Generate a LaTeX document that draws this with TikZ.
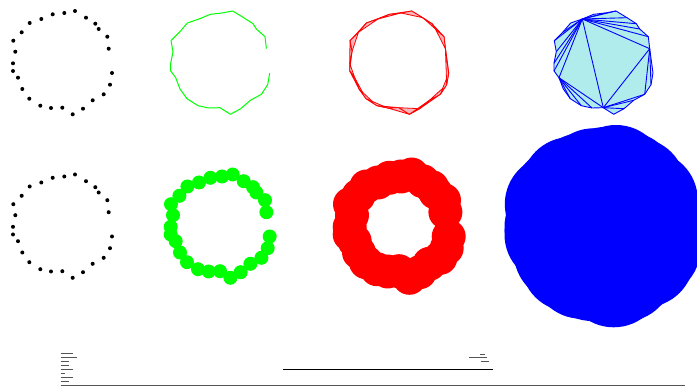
\documentclass[tikz,border=0pt]{standalone}
\usetikzlibrary{calc}
\definecolor{lcyan}{RGB}{176,236,236}
\definecolor{pinkred}{RGB}{250,180,186}
\definecolor{bargray}{RGB}{85,85,85}
\newcommand\mkpts[3]{%
  \foreach \n/\px/\py in {1/75/11,2/64.3/13,3/52.7/14.3,4/41.3/19,5/29.7/23,6/21.7/32.3,7/13.3/40.7,8/15.3/51.7,9/13/63.3,10/13/71,11/18/77.7,12/22.3/89,13/29.3/98.7,14/40.3/105.7,15/51/108,16/62.3/107.7,17/72.7/114.3,18/83/108.7,19/92.7/100.3,20/103.7/94.3,21/110/84.7,22/112/73,23/108.7/48.7,24/107.3/36.7,25/98.7/29,26/95.3/23.7,27/86/17.7}
  {\coordinate (#1\n) at (\px+#2,\py+#3);}%
}
\tikzset{
  blackdot/.style={fill=black},
  greenline/.style={draw=green,line width=1pt,line join=round},
  redtri/.style={fill=pinkred,draw=red,line width=0.8pt,line join=round},
  bluepoly/.style={fill=lcyan,draw=blue,line width=0.9pt,line join=round},
  blueline/.style={draw=blue,line width=0.9pt},
  bar/.style={draw=bargray,line width=0.9pt},
}
\begin{document}
\begin{tikzpicture}[x=1pt,y=-1pt]
\useasboundingbox (0,0) rectangle (697,387);
\clip (0,0) rectangle (697,387);
% coordinate sets
\mkpts{k}{0}{0}
\mkpts{g}{157.7}{0}
\mkpts{r}{336.7}{0}
\mkpts{u}{541}{0}
\mkpts{K}{0}{163.5}
\mkpts{G}{157.7}{163.5}
\mkpts{R}{336.7}{163.5}
\mkpts{U}{541}{163.5}
% top row: dots
\foreach \i in {1,...,27} {\fill[blackdot] (k\i) circle (2);}
% top row: green polyline
\draw[greenline] (g23) \foreach \i in {24,25,26,27,1,2,...,22} {-- (g\i)};
% top row: red triangles of consecutive triples
\foreach \a in {1,...,27} {
  \pgfmathtruncatemacro\bb{mod(\a,27)+1}
  \pgfmathtruncatemacro\cc{mod(\a+1,27)+1}
  \filldraw[redtri] (r\a) -- (r\bb) -- (r\cc) -- cycle;
}
% top row: blue triangulation
\filldraw[bluepoly] (u1) \foreach \i in {2,...,27} {-- (u\i)} -- cycle;
\foreach \a/\b in {4/16,16/23,4/23,4/11,11/16,
  4/2,4/1,4/27,4/26,4/25,4/24,
  4/6,4/7,4/8,4/9,4/10,
  11/13,11/14,11/15,
  16/18,16/19,16/20,20/23,21/23}
  {\draw[blueline] (u\a) -- (u\b);}
% bottom row
\foreach \i in {1,...,27} {\fill[blackdot] (K\i) circle (2);}
\foreach \i in {1,...,27} {\fill[green] (G\i) circle (7);}
\foreach \i in {1,...,27} {\fill[red] (R\i) circle (17);}
\foreach \i in {1,...,27} {\fill[blue] (U\i) circle (49.5);}
% bottom strip
\coordinate (b1a) at (60.7,353.3); \coordinate (b1b) at (72.7,353.3);
\coordinate (b2a) at (60.7,357.3); \coordinate (b2b) at (76.7,357.3);
\coordinate (b3a) at (60.7,361.3); \coordinate (b3b) at (68.7,361.3);
\coordinate (b4a) at (60.7,365.3); \coordinate (b4b) at (68.7,365.3);
\coordinate (b5a) at (60.7,369.3); \coordinate (b5b) at (72.7,369.3);
\coordinate (b6a) at (60.7,373.3); \coordinate (b6b) at (64.7,373.3);
\coordinate (b7a) at (60.7,377.3); \coordinate (b7b) at (72.7,377.3);
\coordinate (b8a) at (60.7,381.3); \coordinate (b8b) at (68.7,381.3);
\foreach \i in {1,...,8} {\draw[bar] (b\i a) -- (b\i b);}
\coordinate (la) at (60.7,385.3); \coordinate (lb) at (685,385.3);
\draw[draw=bargray,line width=1.2pt] (la) -- (lb);
\coordinate (ma) at (283.3,369.3); \coordinate (mb) at (492.7,369.3);
\draw[line width=1pt] (ma) -- (mb);
\coordinate (s1a) at (480,354.3); \coordinate (s1b) at (485,354.3);
\coordinate (s2a) at (469.3,357.3); \coordinate (s2b) at (486.7,357.3);
\coordinate (s3a) at (480.7,361.3); \coordinate (s3b) at (488.7,361.3);
\foreach \i in {1,2,3} {\draw[bar] (s\i a) -- (s\i b);}
\end{tikzpicture}
\end{document}
